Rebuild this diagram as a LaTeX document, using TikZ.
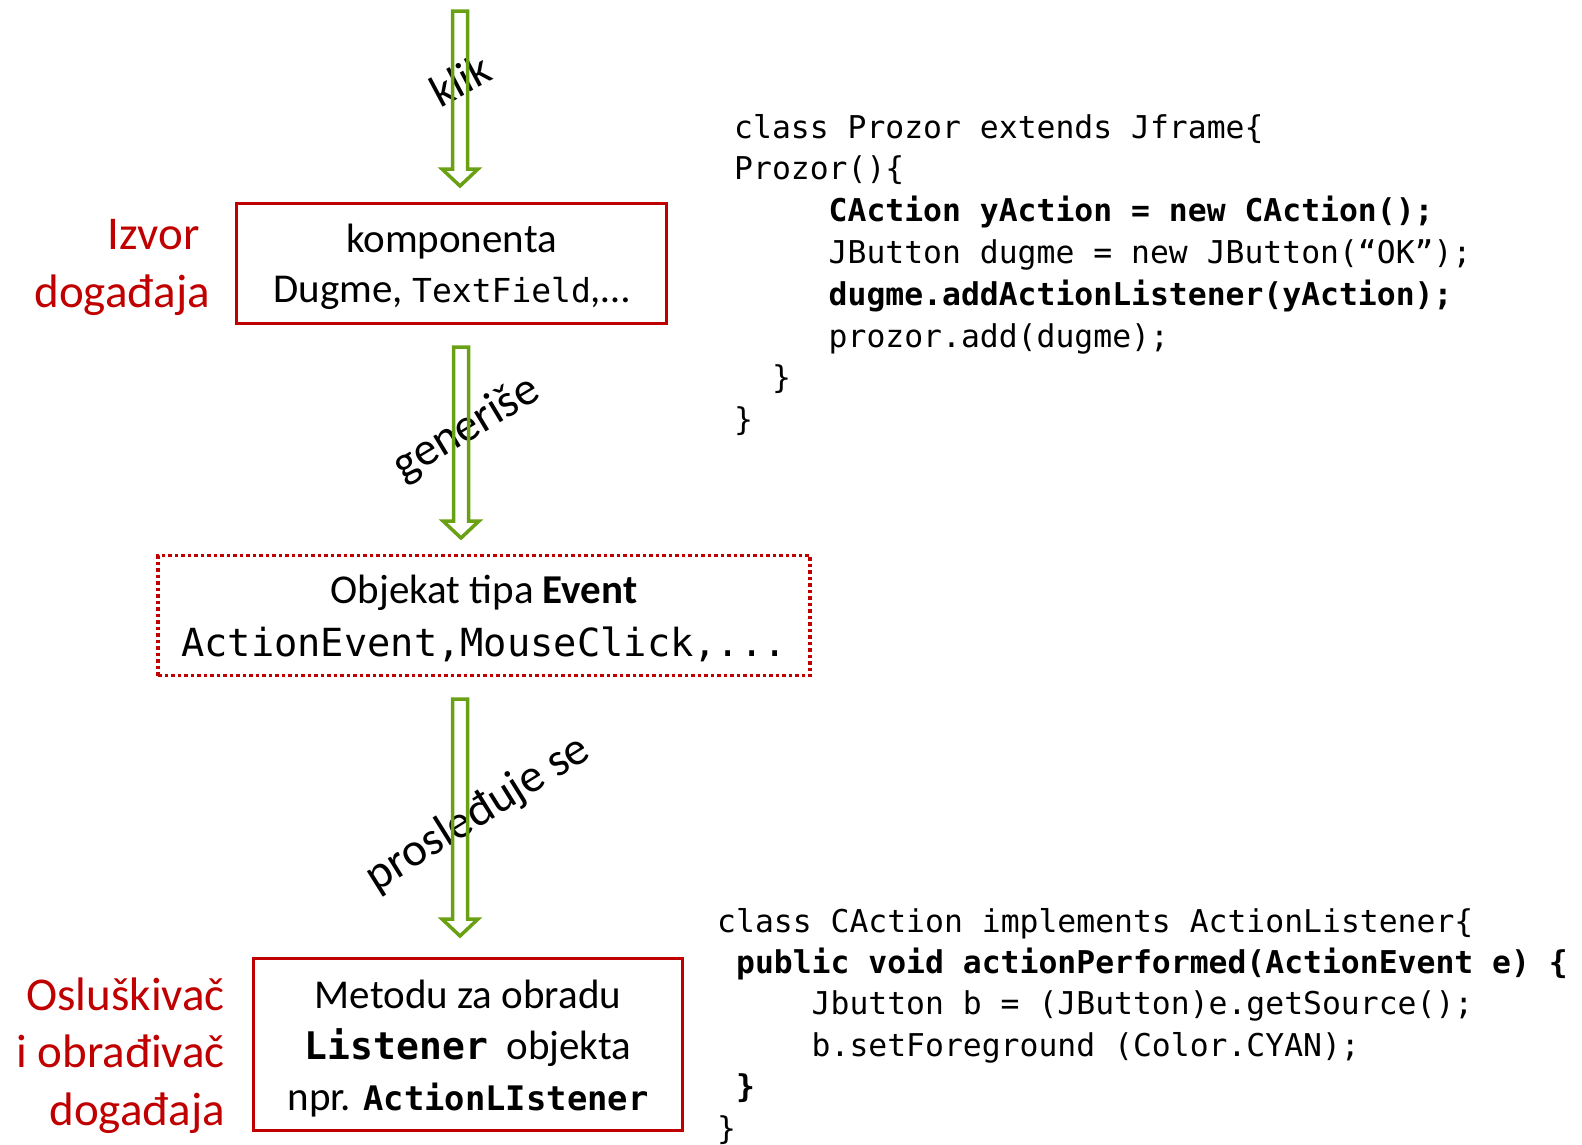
\documentclass[tikz,border=0pt]{standalone}
\usepackage{fontspec}
\setmainfont{Carlito}
\newfontfamily\codefont{DejaVu Sans Mono}
\usetikzlibrary{calc}
\definecolor{boxred}{RGB}{192,0,0}
\definecolor{arrgreen}{RGB}{106,160,20}
\newcommand\hollowarrow[2]{\draw[hollow] let \p1=(#1), \p2=(#2) in
  (\x1-7.5pt,\y1) -- (\x1+7.5pt,\y1) -- (\x1+7.5pt,\y2+17pt) -- (\x1+18pt,\y2+17pt)
  -- (\x2,\y2) -- (\x1-18pt,\y2+17pt) -- (\x1-7.5pt,\y2+17pt) -- cycle;}
\begin{document}
\begin{tikzpicture}[x=1pt,y=-1pt,
  redbox/.style={draw=boxred, line width=3.5pt, inner sep=0pt},
  dotbox/.style={draw=boxred, line width=3.5pt, dash pattern=on 3.5pt off 3pt, inner sep=0pt},
  boxtext/.style={inner sep=0pt, align=center},
  redlabel/.style={text=boxred, align=right, anchor=east, inner sep=0pt, font=\fontsize{47}{57.5}\selectfont},
  arrlabel/.style={font=\fontsize{47}{50}\selectfont, inner sep=0pt},
  codeline/.style={anchor=base west, inner sep=0pt, font=\codefont\fontsize{31.4}{40}\selectfont},
  codebold/.style={anchor=base west, inner sep=0pt, font=\codefont\bfseries\fontsize{31.4}{40}\selectfont},
  hollow/.style={draw=arrgreen, line width=3.5pt, line join=miter}
]
\useasboundingbox (0,0) rectangle (1582,1144);

% boxes
\node[redbox, minimum width=430pt, minimum height=120pt] (src) at (451.5,263.5) {};
\node[boxtext, font=\fontsize{41}{50}\selectfont] (srctext) at ($(src.center)+(0,3.5)$)
  {komponenta\\Dugme, {\codefont\fontsize{33}{50}\selectfont TextField},…};
\node[dotbox, minimum width=652pt, minimum height=120pt] (evt) at (484,615.5) {};
\node[boxtext, font=\fontsize{41}{53}\selectfont] (evttext) at ($(evt.center)+(0,3)$)
  {Objekat tipa \textbf{Event}\\{\codefont\fontsize{38.7}{53}\selectfont ActionEvent,MouseClick,...}};
\node[redbox, minimum width=429pt, minimum height=172pt] (lst) at (468,1044.5) {};
\node[boxtext, font=\fontsize{41}{51}\selectfont] (lsttext) at ($(lst.center)+(0,4.5)$)
  {Metodu za obradu\\{\codefont\bfseries\fontsize{38}{51}\selectfont Listener}\ \ objekta\\npr. {\codefont\bfseries\fontsize{33.8}{51}\selectfont ActionLIstener}};

% red labels
\node[redlabel] (izvor) at (210,267.5) {Izvor\hspace*{10pt}\\događaja};
\node[redlabel] (osl) at (225,1055.5) {Osluškivač\\i obrađivač\\događaja};

% arrow labels
\node[arrlabel, rotate=28, font=\fontsize{45}{50}\selectfont] (klik) at (460,80) {klik};
\node[arrlabel, rotate=31] (gen) at (467,429) {generiše};
\node[arrlabel, rotate=32] (pros) at (478,814) {prosleđuje se};

% arrows
\coordinate (a1s) at (460,11);  \coordinate (a1e) at (460,186);
\coordinate (a2s) at (461,347); \coordinate (a2e) at (461,538);
\coordinate (a3s) at (460,699); \coordinate (a3e) at (460,936);
\hollowarrow{a1s}{a1e}
\hollowarrow{a2s}{a2e}
\hollowarrow{a3s}{a3e}

% code block 1
\node[codeline] (c1a) at (734,138)   {class Prozor extends Jframe\{};
\node[codeline] (c1b) at (734,179.8) {Prozor()\{};
\node[codebold] (c1c) at (828.5,221.6) {CAction yAction = new CAction();};
\node[codeline] (c1d) at (828.5,263.4) {JButton dugme = new JButton(“OK”);};
\node[codebold] (c1e) at (828.5,305.2) {dugme.addActionListener(yAction);};
\node[codeline] (c1f) at (828.5,347)   {prozor.add(dugme);};
\node[codeline] (c1g) at (771.8,388.8) {\}};
\node[codeline] (c1h) at (734,430.6)   {\}};

% code block 2
\node[codeline] (c2a) at (717,932)    {class CAction implements ActionListener\{};
\node[codebold] (c2b) at (735.9,973.4) {public void actionPerformed(ActionEvent e) \{};
\node[codeline] (c2c) at (811.5,1014.8) {Jbutton b = (JButton)e.getSource();};
\node[codeline] (c2d) at (811.5,1056.2) {b.setForeground (Color.CYAN);};
\node[codebold] (c2e) at (735.9,1097.6) {\}};
\node[codeline] (c2f) at (717,1139)   {\}};
\end{tikzpicture}
\end{document}
